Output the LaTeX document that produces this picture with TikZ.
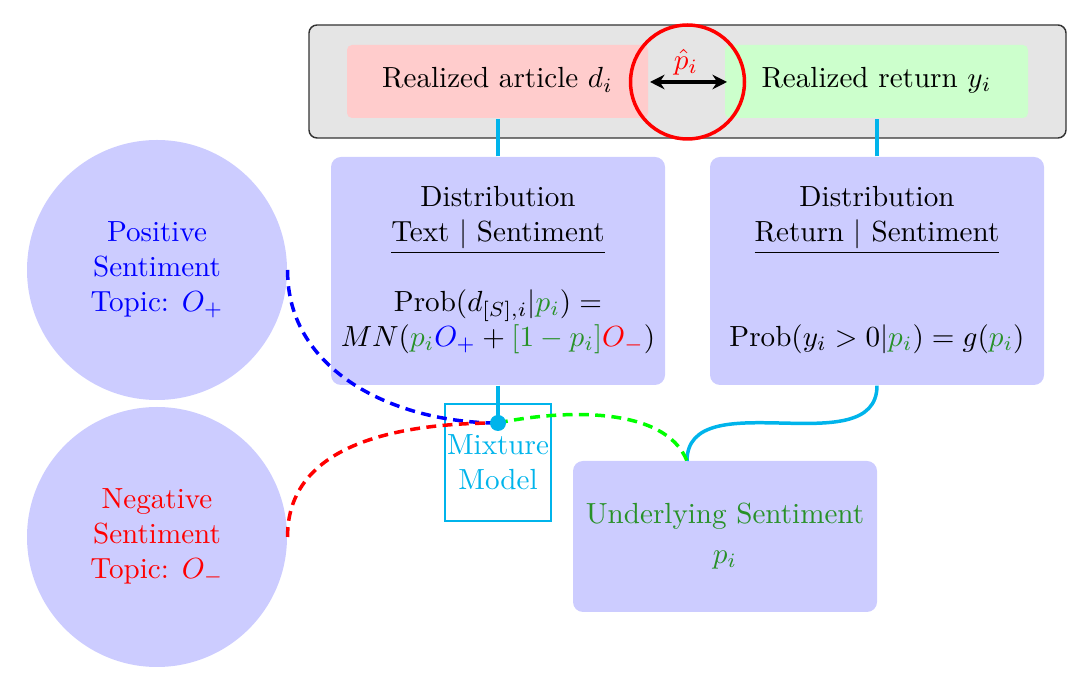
\documentclass[tikz,border=0pt]{standalone}
\usetikzlibrary{arrows.meta}
\definecolor{mycyan}{RGB}{0,180,235}
\definecolor{tgreen}{RGB}{40,145,40}
\definecolor{boxblue}{RGB}{204,204,255}
\def\u{0.3436pt}
\tikzset{
  bluebox/.style={fill=boxblue, rounded corners=10*\u, inner sep=0pt},
  topic/.style={circle, fill=boxblue, minimum size=260*\u, inner sep=0pt, align=center},
  realbox/.style={rounded corners=5*\u, inner sep=0pt},
  cyanline/.style={draw=mycyan, line width=1.2pt},
  dashline/.style={line width=1.2pt, dash pattern=on 3.4pt off 2.2pt},
  txt/.style={align=center, inner sep=0pt}
}
\begin{document}
\begin{tikzpicture}[x=0.3436pt, y=-0.3436pt]
\useasboundingbox (0,0) rectangle (1080,680);

% top realized box
\node[draw=black!80, fill=black!10, rounded corners=8*\u, line width=0.5pt,
      minimum width=757*\u, minimum height=113*\u, inner sep=0pt] (top) at (687.5,81.5) {};
\node[realbox, fill=red!20, minimum width=301*\u, minimum height=73*\u] (art) at (497.5,81.5) {};
\node[realbox, fill=green!20, minimum width=303*\u, minimum height=73*\u] (ret) at (876.5,81.5) {};
\node[txt] (arttxt) at (497.5,80) {Realized article $d_i$};
\node[txt] (rettxt) at (876.5,80) {Realized return $y_i$};
\node[circle, draw=red, line width=1.2pt, minimum size=114*\u, inner sep=0pt] (ring) at (687.5,82) {};
\coordinate (aL) at (650,82);
\coordinate (aR) at (727,82);
\draw[{Stealth[length=5pt,width=5pt]}-{Stealth[length=5pt,width=5pt]}, line width=1.1pt] (aL) -- (aR);
\node[txt, text=red] (phat) at (686,62) {$\hat{p}_i$};

% distribution boxes
\node[bluebox, minimum width=334*\u, minimum height=228*\u] (ldist) at (498,271) {};
\node[bluebox, minimum width=334*\u, minimum height=228*\u] (rdist) at (877,271) {};
\node[txt] (ldtxt) at (498,270) {Distribution\\ \underline{Text $|$ Sentiment}\\[12pt]
  Prob$(d_{[S],i}|{\color{tgreen}p_i})=$\\
  $MN({\color{tgreen}p_i}{\color{blue}O_+}+{\color{tgreen}[1-p_i]}{\color{red}O_-})$};
\node[txt] (rdtxt) at (877,270) {Distribution\\ \underline{Return $|$ Sentiment}\\[24pt]
  Prob$(y_i>0|{\color{tgreen}p_i})=g({\color{tgreen}p_i})$};

% topic circles
\node[topic, text=blue] (pos) at (157,270) {Positive\\Sentiment\\Topic: $O_+$};
\node[topic, text=red] (neg) at (157,537) {Negative\\Sentiment\\Topic: $O_-$};

% mixture model
\node[draw=mycyan, line width=0.4pt, text=mycyan, align=center, inner sep=0pt,
      minimum width=106*\u, minimum height=117*\u] (mix) at (498,462.5) {Mixture\\Model};

% underlying sentiment
\node[bluebox, minimum width=304*\u, minimum height=151*\u] (und) at (725,536.5) {};
\node[txt, text=tgreen] (undtxt) at (725,536) {Underlying Sentiment\\[1.5pt]$p_i$};

\coordinate (dot) at (498,423);
\coordinate (undtop) at (687,461);

% connectors
\draw[cyanline] (ldist.north) -- (ldist.north |- art.south);
\draw[cyanline] (rdist.north) -- (rdist.north |- ret.south);
\draw[cyanline] (ldist.south) -- (dot);
\draw[cyanline] (rdist.south) .. controls (877,465) and (687,381) .. (undtop);
\draw[dashline, draw=blue] (pos.east) .. controls (287,372) and (396,423) .. (dot);
\draw[dashline, draw=red] (neg.east) .. controls (287,442) and (403,423) .. (dot);
\draw[dashline, draw=green] (dot) .. controls (560,410) and (665,405) .. (undtop);
\node[circle, fill=mycyan, minimum size=16*\u, inner sep=0pt] (dotnode) at (dot) {};
\end{tikzpicture}
\end{document}
